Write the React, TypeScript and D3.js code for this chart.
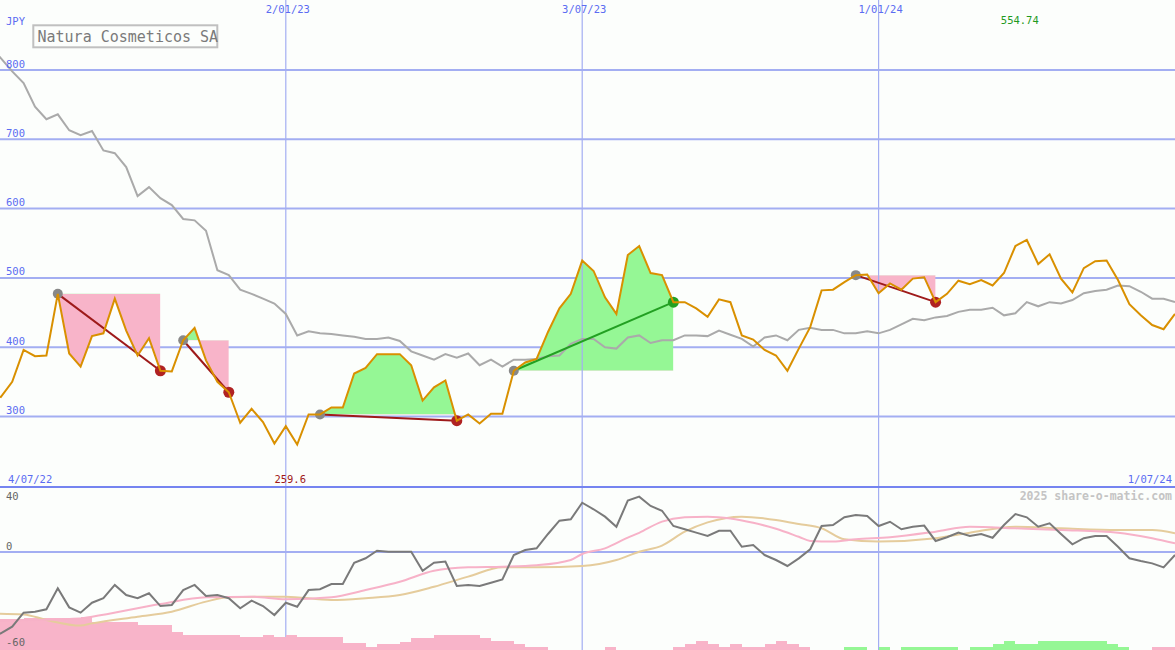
import React from "react";
import * as d3 from "d3";

const W = 1175;
const H = 650;
const startDate = new Date(Date.UTC(2022, 6, 4));
const endDate = new Date(Date.UTC(2024, 6, 1));
const companyName = "Natura Cosmeticos SA";
const currency = "JPY";
const watermark = "2025 share-o-matic.com";

// weekly close (JPY)
const price = [
  335, 328, 350, 396, 387, 388, 477, 391, 372, 416,
  420, 470, 424, 388, 413, 366, 365, 410, 428, 381,
  350, 335, 291, 311, 292, 261, 286, 259.6, 303, 303,
  313, 313, 362, 370, 390, 390, 390, 374, 323, 342,
  352, 294, 303, 290, 304, 304, 366, 378, 383, 422,
  456, 477, 525, 510, 472, 448, 533, 546, 507, 504,
  465, 465, 456, 444, 469, 465, 417, 411, 396, 388,
  366, 398, 429, 482, 483, 494, 504, 505, 478, 492,
  483, 499, 501, 465, 477, 496, 491, 497, 489, 507,
  546, 554.74, 520, 534, 499, 479, 514, 524, 525, 497,
  462, 446, 432, 426, 448,
];

// relative-performance reference line
const relative = [
  835, 817, 798, 781, 747, 729, 736, 713, 706, 712,
  684, 680, 660, 618, 631, 615, 605, 585, 583, 568,
  511, 504, 483, 477, 470, 463, 448, 417, 423, 420,
  419, 417, 415, 412, 412, 414, 409, 394, 388, 382,
  390, 385, 391, 374, 382, 372, 382, 382, 383, 387,
  388, 405, 412, 412, 400, 398, 414, 417, 406, 410,
  410, 417, 417, 416, 424, 418, 412, 401, 414, 417,
  410, 425, 428, 425, 425, 420, 420, 423, 420, 425,
  433, 441, 439, 443, 445, 451, 454, 454, 457, 446,
  449, 465, 459, 465, 463, 468, 478, 481, 483, 489,
  488, 480, 470, 470, 465,
];

// lower panel oscillator
const oscillator = [
  -54, -50.8, -46.7, -37.9, -37.3, -35.8, -22.7, -34.6, -37.9, -31.7,
  -28.9, -20.6, -26.9, -28.9, -25.8, -33.8, -33.1, -23.8, -20.6, -27.5,
  -26.9, -28.9, -35.2, -30.4, -33.8, -39.4, -31.7, -34.2, -23.8, -23.3,
  -20, -20, -6.7, -3.9, 0.8, 0.2, 0.2, 0.2, -11.7, -6.7,
  -6, -21.2, -20.6, -21.2, -19.2, -17.1, -1.9, 1.25, 2.3, 11.25,
  19.6, 20.4, 30.8, 26.7, 22.1, 15.8, 32.1, 34.6, 28.75, 25.8,
  16.25, 14.2, 12.1, 10, 13.3, 13.3, 3.3, 4.4, -1.9, -5,
  -8.75, -4, 1.7, 16.25, 16.9, 21.7, 23.1, 22.5, 16.25, 18.9,
  14.2, 15.8, 16.5, 6.9, 9.2, 12.1, 10, 11.25, 8.9, 16.9,
  23.75, 21.7, 15.8, 17.9, 11.25, 4.8, 8.6, 10, 10, 3.3,
  -3.9, -5.6, -7.1, -9.6, -1.9,
];

// slow averages (read at selected weeks)
const pinkWeeks = [0, 8, 9, 15, 19, 23, 26, 30, 33, 36, 39, 42, 45, 48, 51, 52, 54, 56, 57, 59, 61, 63, 65, 67, 69, 71, 72, 74, 76, 79, 83, 86, 90, 94, 99, 102, 104];
const pinkValues = [-43, -41.5, -40.4, -32.5, -28.3, -27.9, -29.6, -28.3, -23.75, -18.6, -11.7, -9.6, -9.2, -8.3, -5, -1.25, 2.3, 9, 12, 19, 21.7, 22.1, 21, 18.3, 14.5, 9.5, 6.9, 6.5, 7.9, 9.2, 12.7, 15.8, 14.8, 13.75, 12.1, 8.6, 5.4];
const tanWeeks = [0, 3, 5, 8, 9, 13, 16, 19, 21, 26, 30, 33, 36, 39, 42, 45, 48, 52, 55, 57, 59, 61, 63, 66, 68, 69, 71, 73, 75, 78, 83, 86, 90, 94, 99, 102, 104];
const tanValues = [-38.5, -39, -42.5, -46, -44.6, -40.4, -37.3, -31, -28.3, -27.9, -30, -28.9, -26.9, -21.7, -15.4, -9.6, -9.6, -8.75, -5, 0.2, 4, 12.7, 18.5, 22.1, 21, 20, 17.5, 14.8, 7.9, 6.5, 8.6, 12.1, 15.8, 14.8, 13.75, 13.75, 11.7];

// bottom histogram (negative = pink, positive = green)
const histogram = [
  -28.7, -28.7, -28.7, -29.7, -29.7, -29.7, -29.7, -29.7, -30.7, -26.3,
  -26.3, -26.3, -26.3, -23, -23, -23, -16.3, -13, -13, -13,
  -13, -13, -10.7, -10.7, -13, -10.7, -13, -10.7, -10.7, -10.7,
  -10.7, -4.7, -4.7, -1.3, -4, -4, -6.3, -9.7, -9.7, -13,
  -13, -13, -13, -9.7, -7, -7, -4, -1.3, -1.3, 0,
  0, 0, 0, 0, -1.3, 0, 0, 0, 0, 0,
  -1.3, -4, -7, -4, -1.3, -4, -1.3, -1.3, -4, -7,
  -4, -1.3, 0, 0, 0, 1.3, 1.3, 0, 1.3, 0,
  1.3, 1.3, 1.3, 1.3, 1.3, 0, 1.3, 1.3, 4, 7,
  4, 4, 7, 7, 7, 7, 7, 7, 4, 1.3,
  0, 0, -1.3, -1.3, -1.3,
];

const signalEntry = [6, 17, 29, 46, 76];
const signalExit = [15, 21, 41, 60, 83];

const gridDates = [new Date(Date.UTC(2023, 0, 2)), new Date(Date.UTC(2023, 6, 3)), new Date(Date.UTC(2024, 0, 1))];
const priceTicks = [300, 400, 500, 600, 700, 800];
const oscTicks = [40, 0, -60];

const BG = "#fcfefc";
const GRID = "#a3aef2";
const LABEL = "#5b6cf2";
const FONT = "'DejaVu Sans Mono', monospace";
const PINK = "#f8b4c9";
const GREEN = "#95f795";

export default function App() {
  const dates = price.map((_, i) => d3.utcDay.offset(startDate, 7 * i));
  const x = d3.scaleUtc().domain([startDate, endDate]).range([-10.6, W]);
  const y = d3.scaleLinear().domain([300, 800]).range([416.5, 70]);
  const yo = d3.scaleLinear().domain([-60, 40]).range([648, 488]);
  const yh = d3.scaleLinear().domain([0, 30]).range([648, 618]);
  const xi = (i: number) => x(dates[i]);
  const fmt = d3.utcFormat("%-d/%m/%y");

  const priceLine = d3.line<number>().x((_, i) => xi(i)).y((d) => y(d))(price) || "";
  const relLine = d3.line<number>().x((_, i) => xi(i)).y((d) => y(d))(relative) || "";
  const oscLine = d3.line<number>().x((_, i) => xi(i)).y((d) => yo(d))(oscillator) || "";
  const pinkLine =
    d3.line<number>().x((_, k) => xi(pinkWeeks[k])).y((d) => yo(d)).curve(d3.curveMonotoneX)(pinkValues) || "";
  const tanLine =
    d3.line<number>().x((_, k) => xi(tanWeeks[k])).y((d) => yo(d)).curve(d3.curveMonotoneX)(tanValues) || "";

  const maxV = d3.max(price) as number;
  const minV = d3.min(price) as number;
  const maxI = price.indexOf(maxV);
  const minI = price.indexOf(minV);

  const signals = signalEntry.map((a, k) => {
    const b = signalExit[k];
    const L = price[a];
    const idx = d3.range(a, b + 1);
    const area = d3.area<number>().x((i) => xi(i)).y0(y(L)).y1((i) => y(price[i]))(idx) || "";
    const win = price[b] > L;
    return { a, b, L, area, win, k };
  });

  return (
    <svg
      width={W}
      height={H}
      style={{ position: "absolute", left: 0, top: 0, display: "block", background: BG }}
      fontFamily={FONT}
    >
      <defs>
        {signals.map((s) => (
          <React.Fragment key={s.k}>
            <clipPath id={`up${s.k}`}>
              <rect x={xi(s.a)} y={0} width={xi(s.b) - xi(s.a)} height={y(s.L)} />
            </clipPath>
            <clipPath id={`dn${s.k}`}>
              <rect x={xi(s.a)} y={y(s.L)} width={xi(s.b) - xi(s.a)} height={486 - y(s.L)} />
            </clipPath>
          </React.Fragment>
        ))}
        <clipPath id="mainClip">
          <rect x={0} y={0} width={W} height={486} />
        </clipPath>
        <clipPath id="lowClip">
          <rect x={0} y={488} width={W} height={H - 488} />
        </clipPath>
      </defs>
      <rect x={0} y={0} width={W} height={H} fill={BG} />

      {/* main panel grid */}
      {priceTicks.map((t) => (
        <line key={t} x1={0} x2={W} y1={y(t)} y2={y(t)} stroke={GRID} strokeWidth={2} />
      ))}

      {/* signal fills */}
      {signals.map((s) => (
        <g key={s.k}>
          <path d={s.area} fill={GREEN} clipPath={`url(#up${s.k})`} />
          <path d={s.area} fill={PINK} clipPath={`url(#dn${s.k})`} />
        </g>
      ))}

      {gridDates.map((d, k) => (
        <line key={k} x1={x(d)} x2={x(d)} y1={0} y2={H} stroke={GRID} strokeWidth={1.2} />
      ))}

      <g clipPath="url(#mainClip)">
        <path d={relLine} fill="none" stroke="#aaaaaa" strokeWidth={2} />
        {signals.map((s) => (
          <line
            key={s.k}
            x1={xi(s.a)}
            y1={y(price[s.a])}
            x2={xi(s.b)}
            y2={y(price[s.b])}
            stroke={s.win ? "#22a022" : "#9e1a1a"}
            strokeWidth={2}
          />
        ))}
        {signals.map((s) => (
          <g key={s.k}>
            <circle cx={xi(s.a)} cy={y(price[s.a])} r={5} fill="#888888" />
            <circle cx={xi(s.b)} cy={y(price[s.b])} r={5.5} fill={s.win ? "#22a022" : "#b02222"} />
          </g>
        ))}
        <path d={priceLine} fill="none" stroke="#d99000" strokeWidth={2} />
      </g>

      {/* separator */}
      <line x1={0} x2={W} y1={487} y2={487} stroke="#7584f0" strokeWidth={2.2} />

      {/* lower panel */}
      <g clipPath="url(#lowClip)">
        {histogram.map((v, i) =>
          v === 0 ? null : (
            <rect
              key={i}
              x={xi(i)}
              y={yh(Math.abs(v))}
              width={(i < histogram.length - 1 ? xi(i + 1) : W) - xi(i)}
              height={H - yh(Math.abs(v))}
              fill={v < 0 ? PINK : GREEN}
              shapeRendering="crispEdges"
            />
          )
        )}
        <line x1={0} x2={W} y1={yo(0)} y2={yo(0)} stroke={GRID} strokeWidth={2} />
        <path d={tanLine} fill="none" stroke="#e5cc9c" strokeWidth={2} />
        <path d={pinkLine} fill="none" stroke="#f7b2c8" strokeWidth={2} />
        <path d={oscLine} fill="none" stroke="#7a7a7a" strokeWidth={2} />
      </g>

      {/* labels */}
      <text x={6} y={25} fontSize={10.5} fill={LABEL}>{currency}</text>
      {priceTicks.map((t) => (
        <text key={t} x={6} y={y(t) - 2.5} fontSize={10.5} fill={LABEL}>{t}</text>
      ))}
      {gridDates.map((d, k) => (
        <text key={k} x={x(d) + 2} y={13} fontSize={10.5} fill={LABEL} textAnchor="middle">{fmt(d)}</text>
      ))}
      <text x={8} y={483} fontSize={10.5} fill={LABEL}>{fmt(startDate)}</text>
      <text x={1172} y={483} fontSize={10.5} fill={LABEL} textAnchor="end">{fmt(endDate)}</text>
      <text x={xi(minI) - 7} y={483} fontSize={10.5} fill="#a01818" textAnchor="middle">{String(minV)}</text>
      <text x={xi(maxI) - 7} y={24} fontSize={10.5} fill="#1f9a1f" textAnchor="middle">{String(maxV)}</text>
      {oscTicks.map((t) => (
        <text key={t} x={6} y={Math.max(yo(t) - 2.5, 499.5)} fontSize={10.5} fill="#666666">{t}</text>
      ))}
      <text x={1172} y={500} fontSize={11.5} fontWeight="bold" fill="#c4c4c4" textAnchor="end">{watermark}</text>

      <rect x={33.3} y={25.3} width={184} height={22} fill={BG} stroke="#c0c0c0" strokeWidth={2} />
      <text x={37.5} y={41.5} fontSize={15} fill="#7a7a7a">{companyName}</text>
    </svg>
  );
}
